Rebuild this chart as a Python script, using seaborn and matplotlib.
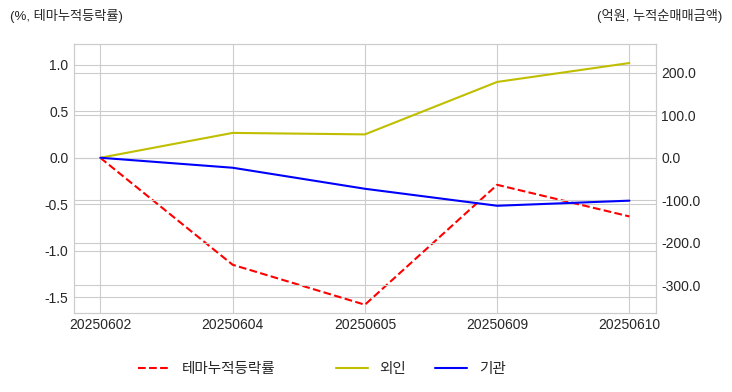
import pandas as pd
import numpy as np
import matplotlib
matplotlib.use('Agg')
import matplotlib.pyplot as plt
import seaborn as sns
from matplotlib.ticker import FormatStrFormatter

# data
dates = ['20250602', '20250604', '20250605', '20250609', '20250610']
theme_chg = [0.0, -1.15, -1.58, -0.29, -0.63]
foreign_amt = [0.0, 58.5, 55.0, 178.5, 223.0]
inst_amt = [0.0, -23.5, -73.0, -113.0, -101.0]

df = pd.DataFrame({'date': dates, 'theme': theme_chg,
                   'foreign': foreign_amt, 'inst': inst_amt})

sns.set_style('whitegrid')
plt.rcParams['font.family'] = ['Liberation Sans', 'Noto Sans CJK KR']
plt.rcParams['axes.unicode_minus'] = False

fig, ax1 = plt.subplots(figsize=(7.32, 3.92), dpi=100)
fig.subplots_adjust(left=0.101, right=0.896, top=0.888, bottom=0.202)

sns.lineplot(data=df, x='date', y='theme', ax=ax1, color='red',
             linestyle='--', label='테마누적등락률', sort=False)
ax2 = ax1.twinx()
sns.lineplot(data=df, x='date', y='foreign', ax=ax2, color='y',
             label='외인', sort=False)
sns.lineplot(data=df, x='date', y='inst', ax=ax2, color='b',
             label='기관', sort=False)

ax1.set_ylim(-1.667, 1.226)
ax2.set_ylim(-365, 268)
ax1.set_yticks([-1.5, -1.0, -0.5, 0.0, 0.5, 1.0])
ax2.set_yticks([-300, -200, -100, 0, 100, 200])
ax1.yaxis.set_major_formatter(FormatStrFormatter('%.1f'))
ax2.yaxis.set_major_formatter(FormatStrFormatter('%.1f'))
ax1.set_xlabel('')
ax1.set_ylabel('')
ax2.set_ylabel('')
ax2.grid(True)
for ax in (ax1, ax2):
    ax.tick_params(labelsize=10, colors='.15', length=0, pad=4)
    for s in ax.spines.values():
        s.set_color('.8')

ax1.legend(loc='center', bbox_to_anchor=(0.228, -0.21), frameon=False,
           fontsize=10.5, handlelength=2.2)
ax2.legend(loc='center', bbox_to_anchor=(0.596, -0.21), frameon=False,
           fontsize=10.5, ncol=2, handlelength=2.2, columnspacing=2.0)

fig.text(10 / 732, 1 - 16 / 392, '(%, 테마누적등락률)', fontsize=9.5,
         va='center', ha='left', color='.15')
fig.text(722 / 732, 1 - 16 / 392, '(억원, 누적순매매금액)', fontsize=9.5,
         va='center', ha='right', color='.15')

plt.savefig('out.png', dpi=100)
